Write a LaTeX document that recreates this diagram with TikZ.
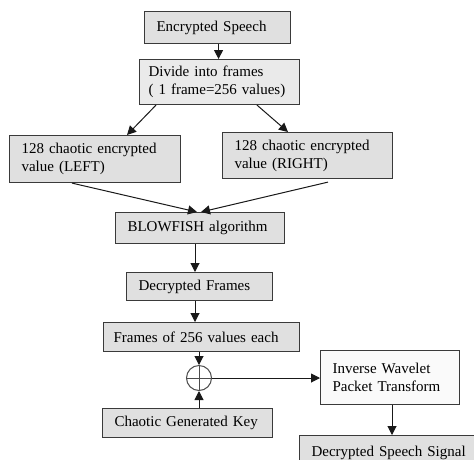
\documentclass[tikz,border=0pt]{standalone}
\usepackage{fontspec}
\setmainfont{Liberation Serif}
\usetikzlibrary{arrows.meta,calc}
\definecolor{boxgrey}{HTML}{E0E0E0}
\definecolor{boxlight}{HTML}{EAEAEA}
\definecolor{edge}{HTML}{3A3A3A}
\tikzset{
  blk/.style={draw=edge, line width=1.1pt, fill=boxgrey, rectangle, inner ysep=0pt,
    font=\fontsize{15}{18}\selectfont, align=left, anchor=north west},
  conn/.style={draw=black!90, line width=1pt, -{Triangle[width=9pt,length=9pt]}},
}
\def\bpad{12}
\newcommand{\blkbox}[7]{% name, x1, y1, x2, y2, fill, text
  \pgfmathsetmacro{\bw}{#4-#2-2*\bpad}\pgfmathsetmacro{\bh}{#5-#3}%
  \node[blk, fill=#6, inner xsep=\bpad pt, minimum height=\bh pt, text width=\bw pt] (#1) at (#2pt,-#3pt) {#7};}
\begin{document}
\begin{tikzpicture}[x=1pt,y=1pt]
\useasboundingbox[fill=white] (0,0) rectangle (474,-459);
\clip (0,0) rectangle (474,-459);
\blkbox{enc}{144}{11}{290}{43}{boxgrey}{Encrypted Speech}
{\def\bpad{9}\blkbox{div}{139}{59}{299}{104}{boxlight}{Divide into frames\\( 1 frame=256 values)}}
\blkbox{left}{9}{135}{180}{182}{boxgrey}{128 chaotic encrypted\\value (LEFT)}
\blkbox{right}{222}{132}{392}{178}{boxgrey}{128 chaotic encrypted\\value (RIGHT)}
\blkbox{bf}{115}{212}{284}{243}{boxgrey}{BLOWFISH algorithm}
\blkbox{dec}{126}{272}{272}{300}{boxgrey}{Decrypted Frames}
{\def\bpad{10}\blkbox{frm}{103}{322}{299}{351}{boxgrey}{Frames of 256 values each}}
\blkbox{key}{102}{408}{272}{437}{boxgrey}{Chaotic Generated Key}
\blkbox{iwpt}{320}{350}{459}{404}{white!98!black}{Inverse Wavelet\\Packet Transform}
\blkbox{dss}{299}{435}{489}{470}{boxgrey}{Decrypted Speech Signal}
\node[draw=black!70, line width=1pt, circle, minimum size=25pt, inner sep=0pt,
  path picture={\draw[black!70, line width=1pt] (path picture bounding box.north) -- (path picture bounding box.south)
   (path picture bounding box.west) -- (path picture bounding box.east);}] (xor) at (199,-378) {};
\draw[conn] ([xshift=1pt]enc.south) -- ([xshift=1pt]enc.south |- div.north);
\draw[conn] ([xshift=17pt]div.south west) -- ([xshift=118pt]left.north west);
\draw[conn] ([xshift=118pt]div.south west) -- ([xshift=66pt]right.north west);
\draw[conn] ([xshift=63pt]left.south west) -- ([xshift=82pt]bf.north west);
\draw[conn] ([xshift=106pt,yshift=-3pt]right.south west) -- ([xshift=86pt]bf.north west);
\draw[conn] ([xshift=80pt]bf.south west) -- ([xshift=80pt]bf.south west |- dec.north);
\draw[conn] ([xshift=69pt]dec.south west) -- ([xshift=69pt]dec.south west |- frm.north);
\draw[conn] (frm.south -| xor.north) -- (xor.north);
\draw[conn] (key.north -| xor.south) -- (xor.south);
\draw[conn] (xor.east) -- (xor.east -| iwpt.west);
\draw[conn] ([xshift=72pt]iwpt.south west) -- ([xshift=72pt]iwpt.south west |- dss.north);
\end{tikzpicture}
\end{document}
